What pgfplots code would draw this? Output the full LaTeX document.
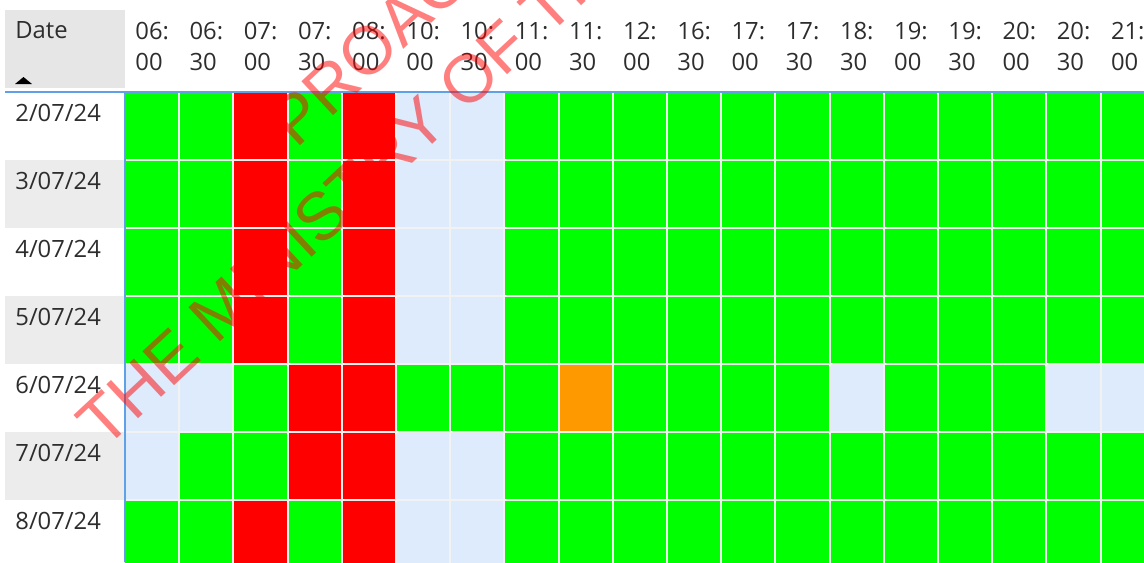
\documentclass[border=0pt]{standalone}
\usepackage{pgfplots}
\pgfplotsset{compat=1.18}
\usepackage{fontspec}
\setmainfont{Open Sans}
\newfontfamily\wmfont{Liberation Sans}
\definecolor{txt}{RGB}{45,45,45}
\definecolor{hdrbg}{RGB}{230,230,230}
\definecolor{rowbg}{RGB}{237,236,236}
\definecolor{bline}{RGB}{95,160,230}
\definecolor{gridc}{RGB}{242,242,242}
\begin{document}
\begin{tikzpicture}
\useasboundingbox (0,0) rectangle (572pt,-281pt);
\clip (0,0) rectangle (572pt,-281pt);
% left column backgrounds
\fill[hdrbg] (2.5pt,-5pt) rectangle (62.5pt,-44pt);
\fill[rowbg] (2.5pt,-80pt) rectangle (62.5pt,-114pt);
\fill[rowbg] (2.5pt,-148pt) rectangle (62.5pt,-182pt);
\fill[rowbg] (2.5pt,-216pt) rectangle (62.5pt,-250pt);
\node[anchor=base west, inner sep=0pt, text=txt, font=\fontsize{11.9}{15.5}\selectfont] at (7.5pt,-19.5pt) {Date};
\fill[black] (7.5pt,-42pt) -- (16pt,-42pt) -- (11.75pt,-38.5pt) -- cycle;
\begin{axis}[
  at={(62.5pt,-46pt)}, anchor=north west,
  scale only axis, width=514.9pt, height=238pt,
  xmin=-0.5, xmax=18.5, ymin=-0.5, ymax=6.5, y dir=reverse,
  axis on top,
  axis line style={draw=none},
  xtick={0,...,18},
  xticklabels={{06:\\00},{06:\\30},{07:\\00},{07:\\30},{08:\\00},{10:\\00},{10:\\30},{11:\\00},{11:\\30},{12:\\00},{16:\\30},{17:\\00},{17:\\30},{18:\\30},{19:\\00},{19:\\30},{20:\\00},{20:\\30},{21:\\00}},
  xticklabel pos=upper,
  xticklabel style={anchor=north west, align=left, inner sep=0pt, xshift=-8.55pt, yshift=35pt},
  ytick={0,...,6},
  yticklabels={2/07/24,3/07/24,4/07/24,5/07/24,6/07/24,7/07/24,8/07/24},
  yticklabel style={anchor=base west, inner sep=0pt, xshift=-55pt, yshift=2.5pt},
  major tick length=0pt, minor tick length=0pt,
  minor xtick={0.5,1.5,...,17.5}, minor ytick={0.5,1.5,...,5.5},
  xminorgrids, yminorgrids,
  minor grid style={gridc, line width=1pt},
  colormap={status}{rgb255=(221,235,252) rgb255=(0,255,0) rgb255=(255,153,0) rgb255=(255,0,0)},
  colormap access=direct,
  tick label style={font=\fontsize{11.9}{15.5}\selectfont, text=txt},
]
\addplot[matrix plot*, mesh/cols=19, point meta=explicit] coordinates {
(0,0)[1] (1,0)[1] (2,0)[3] (3,0)[1] (4,0)[3] (5,0)[0] (6,0)[0] (7,0)[1] (8,0)[1] (9,0)[1] (10,0)[1] (11,0)[1] (12,0)[1] (13,0)[1] (14,0)[1] (15,0)[1] (16,0)[1] (17,0)[1] (18,0)[1]

(0,1)[1] (1,1)[1] (2,1)[3] (3,1)[1] (4,1)[3] (5,1)[0] (6,1)[0] (7,1)[1] (8,1)[1] (9,1)[1] (10,1)[1] (11,1)[1] (12,1)[1] (13,1)[1] (14,1)[1] (15,1)[1] (16,1)[1] (17,1)[1] (18,1)[1]

(0,2)[1] (1,2)[1] (2,2)[3] (3,2)[1] (4,2)[3] (5,2)[0] (6,2)[0] (7,2)[1] (8,2)[1] (9,2)[1] (10,2)[1] (11,2)[1] (12,2)[1] (13,2)[1] (14,2)[1] (15,2)[1] (16,2)[1] (17,2)[1] (18,2)[1]

(0,3)[1] (1,3)[1] (2,3)[3] (3,3)[1] (4,3)[3] (5,3)[0] (6,3)[0] (7,3)[1] (8,3)[1] (9,3)[1] (10,3)[1] (11,3)[1] (12,3)[1] (13,3)[1] (14,3)[1] (15,3)[1] (16,3)[1] (17,3)[1] (18,3)[1]

(0,4)[0] (1,4)[0] (2,4)[1] (3,4)[3] (4,4)[3] (5,4)[1] (6,4)[1] (7,4)[1] (8,4)[2] (9,4)[1] (10,4)[1] (11,4)[1] (12,4)[1] (13,4)[0] (14,4)[1] (15,4)[1] (16,4)[1] (17,4)[0] (18,4)[0]

(0,5)[0] (1,5)[1] (2,5)[1] (3,5)[3] (4,5)[3] (5,5)[0] (6,5)[0] (7,5)[1] (8,5)[1] (9,5)[1] (10,5)[1] (11,5)[1] (12,5)[1] (13,5)[1] (14,5)[1] (15,5)[1] (16,5)[1] (17,5)[1] (18,5)[1]

(0,6)[1] (1,6)[1] (2,6)[3] (3,6)[1] (4,6)[3] (5,6)[0] (6,6)[0] (7,6)[1] (8,6)[1] (9,6)[1] (10,6)[1] (11,6)[1] (12,6)[1] (13,6)[1] (14,6)[1] (15,6)[1] (16,6)[1] (17,6)[1] (18,6)[1]
};
\end{axis}
\draw[bline, line width=1pt] (2.5pt,-45.75pt) -- (572pt,-45.75pt);
\draw[bline, line width=1pt] (62.5pt,-46pt) -- (62.5pt,-281pt);
\node[anchor=base west, rotate=43, inner sep=0pt, text=red, text opacity=0.5, font=\wmfont\fontsize{33.75}{40}\selectfont] at (52pt,-225.5pt) {THE MINISTRY OF THE};
\node[anchor=base west, rotate=43, inner sep=0pt, text=red, text opacity=0.5, font=\wmfont\fontsize{33.75}{40}\selectfont] at (148pt,-75pt) {PROACTIVE};
\end{tikzpicture}
\end{document}
